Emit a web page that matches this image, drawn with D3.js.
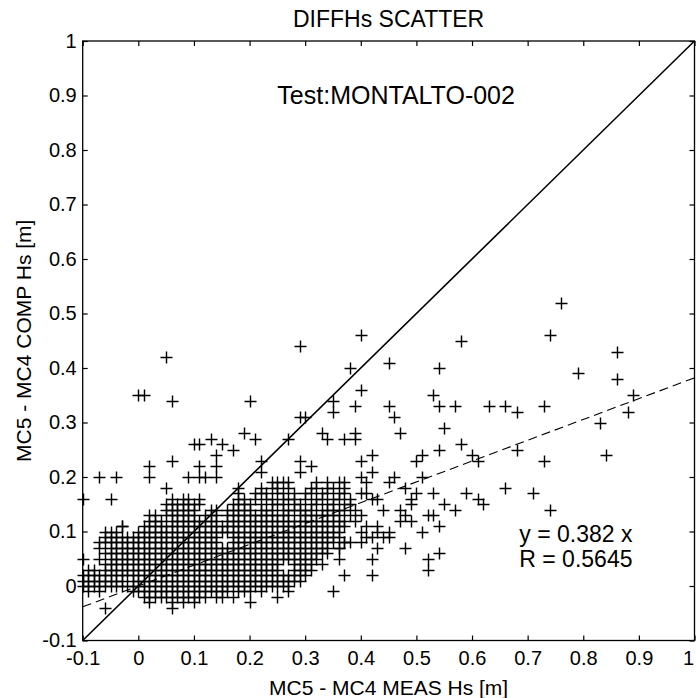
<!DOCTYPE html>
<html>
<head>
<meta charset="utf-8">
<script src="https://cdn.jsdelivr.net/npm/d3@7"></script>
<style>
  body { margin: 0; background: #fff; }
  svg text { font-family: "Liberation Sans", Arial, sans-serif; fill: #000; }
</style>
</head>
<body>
<div id="chart"></div>
<script>
// tick values
const xTicks = [-0.1, 0, 0.1, 0.2, 0.3, 0.4, 0.5, 0.6, 0.7, 0.8, 0.9, 1];
const yTicks = [-0.1, 0, 0.1, 0.2, 0.3, 0.4, 0.5, 0.6, 0.7, 0.8, 0.9, 1];

// dense part of the scatter, read row by row (values in cm, i.e. hundredths of m)
const rowY = [19, 18, 17, 16, 15, 14, 13, 12, 11, 10, 9, 8, 7, 6, 5, 4, 3, 2, 1, 0, -1, -2, -3, -4];
const rowX = [
  [24,25,26,27,32,34,36,37],
  [18,22,24,25,27,31,32,34,35,37],
  [18,21,22,23,25,26,28,30,31,33,34,36,37],
  [6,8,9,11,18,19,21,23,24,26,27,28,30,32,33,35,36,38],
  [5,6,7,8,9,10,11,17,18,19,20,22,24,25,26,28,29,31,32,34,35,37,38],
  [5,6,7,8,9,10,13,14,16,17,18,19,20,22,23,24,26,27,28,29,30,31,33,34,35,36,37],
  [2,3,5,6,7,8,9,10,12,13,14,16,17,18,19,20,21,22,23,24,25,26,27,29,30,31,32,33,34,35,36],
  [2,3,4,6,7,8,9,10,11,12,13,14,16,17,18,19,20,21,22,23,24,25,26,27,28,29,30,31,32,33,34,35,36,37],
  [-3,1,2,3,4,5,6,7,8,9,10,11,12,13,14,15,16,17,18,19,20,21,22,23,24,25,26,27,28,29,30,31,32,33,34,35,36,37],
  [-6,-5,-4,0,1,2,3,4,5,6,7,8,9,10,11,12,13,14,15,16,17,18,19,20,21,22,23,24,25,26,27,28,29,30,31,32,33,34,35,36],
  [-6,-5,-4,-3,-2,-1,0,1,2,3,4,5,6,7,8,9,10,11,12,13,14,17,18,19,20,21,22,23,24,25,26,27,28,29,30,31,32,33,34,35,36],
  [-7,-6,-5,-4,-3,-2,-1,0,1,2,3,4,5,6,7,8,9,10,11,12,13,14,17,18,19,20,21,22,23,24,25,26,27,28,29,30,31,32,33,34,35,37],
  [-7,-5,-4,-3,-2,-1,0,1,2,3,4,5,6,7,8,9,10,11,12,13,14,15,16,17,18,19,20,21,22,23,24,25,26,27,28,29,30,31,32,33,34,36],
  [-6,-5,-4,-3,-2,-1,0,1,2,3,4,5,6,7,8,9,10,11,12,13,14,15,16,17,18,19,20,21,22,23,24,25,26,27,28,29,30,31,32,33,34],
  [-10,-7,-5,-4,-3,-2,-1,0,1,2,3,4,5,6,7,8,9,10,11,12,13,14,15,16,17,18,19,20,21,22,23,24,25,26,27,28,29,30,31,32],
  [-6,-5,-4,-3,-2,-1,0,1,2,3,4,5,6,7,8,9,10,11,12,13,14,15,16,17,18,19,20,21,22,23,24,25,28,29,30,31,33],
  [-9,-8,-6,-5,-4,-3,-2,-1,0,1,2,3,4,5,6,7,8,9,10,11,12,13,14,15,16,17,18,19,20,21,22,23,24,25,28,29,30,31],
  [-10,-9,-8,-7,-6,-5,-4,-3,-2,-1,0,1,2,3,4,5,6,7,8,9,10,11,12,13,14,15,16,17,18,19,20,21,22,23,24,25,26,27,28,29,30],
  [-10,-9,-8,-7,-6,-5,-4,-3,-1,0,1,2,3,4,5,6,7,8,9,10,11,12,13,14,15,16,17,18,19,20,21,22,23,24,25,26,27,28,29],
  [-10,-9,-8,-7,-6,-5,-4,-3,-2,-1,0,1,2,3,4,5,6,7,8,9,10,11,12,13,14,15,16,17,18,19,20,21,22,23,24,25,26,27],
  [-9,-7,-1,0,1,2,3,4,5,6,7,8,9,10,11,12,13,14,15,16,18,19,20,22,27],
  [1,2,3,4,5,6,7,8,9,10,11,12,14,15,17,25],
  [2,6,8,10,20],
  [-6,6]
];

// scattered points outside the dense block (x, y in cm)
const sparseX = [76,5,29,40,58,74,38,45,54,86,79,86,40,53,35,35,39,45,46,47,54,57,63,66,68,73,55,58,54,68,83,88,89,
  37,39,39,33,34,27,21,19,20,0,1,6,29,30,10,11,13,15,17,14,14,14,11,11,9,12,6,2,2,-7,-4,-5,-10,-3,5,22,22,29,29,31,
  50,51,40,42,60,61,84,73,51,45,46,48,53,55,57,59,61,62,66,71,74,49,50,49,52,53,54,51,47,48,49,47,48,52,54,52,
  43,42,42,37,36,35,40,40,42,41,44,43,40,41,42,43,44,45,41,43,39,38,39,40,42,41,40,38,37,36,45];
const sparseY = [52,42,44,46,45,46,40,41,40,43,39,38,36,35,34,32,33,33,31,28,33,33,33,33,32,33,29,26,25,25,30,32,35,
  27,27,28,28,27,27,27,28,34,35,35,34,31,31,26,26,27,26,25,24,22,20,22,20,20,20,23,22,20,20,20,16,16,11,18,23,21,23,21,22,
  23,24,23,24,24,23,24,23,20,19,20,18,17,15,14,17,16,15,18,17,14,16,17,15,13,13,11,10,14,13,12,12,7,5,6,3,
  7,5,2,2,5,-1,8,20,21,19,14,16,10,9,9,10,9,9,11,11,12,13,14,13,16,17,17,8,8,7,10];

// fit and annotation
const fitSlope = 0.382;
const fitR = 0.5645;
const titleText = "DIFFHs SCATTER";
const testText = "Test:MONTALTO-002";
const xLabel = "MC5 - MC4 MEAS Hs [m]";
const yLabel = "MC5 - MC4 COMP Hs [m]";

const W = 696, H = 698;
const pLeft = 82.7, pRight = 694.5, pTop = 41, pBottom = 640.5;

const svg = d3.select("#chart")
    .append("svg")
    .attr("width", W)
    .attr("height", H);

const x = d3.scaleLinear().domain([-0.1, 1]).range([pLeft, pRight]);
const y = d3.scaleLinear().domain([-0.1, 1]).range([pBottom, pTop]);

// build point list from the arrays
const points = [];
rowY.forEach((r, i) => {
    rowX[i].forEach(c => points.push({ x: c / 100, y: r / 100 }));
});
sparseX.forEach((c, i) => points.push({ x: c / 100, y: sparseY[i] / 100 }));

// markers, snapped to pixel centres so the mesh stays open
svg.append("g")
    .selectAll("path")
    .data(points)
    .enter()
    .append("path")
    .attr("transform", d => `translate(${Math.round(x(d.x)) + 0.5},${Math.round(y(d.y)) + 0.5})`)
    .attr("d", "M-6,0H6M0,-6V6")
    .attr("stroke", "#000")
    .attr("stroke-width", 1.45)
    .attr("fill", "none");

// y = x line
svg.append("line")
    .attr("x1", x(-0.1)).attr("y1", y(-0.1))
    .attr("x2", x(1)).attr("y2", y(1))
    .attr("stroke", "#000")
    .attr("stroke-width", 1.6);

// regression line
svg.append("line")
    .attr("x1", x(-0.1)).attr("y1", y(-0.1 * fitSlope))
    .attr("x2", x(1)).attr("y2", y(fitSlope))
    .attr("stroke", "#000")
    .attr("stroke-width", 1.1)
    .attr("stroke-dasharray", "9,5");

// axes, ticks pointing inward like matlab
const fmt = d => String(d);
const axB = svg.append("g")
    .attr("transform", `translate(0,${pBottom})`)
    .call(d3.axisBottom(x).tickValues(xTicks).tickFormat(fmt).tickSize(-5).tickSizeOuter(0).tickPadding(10));
const axL = svg.append("g")
    .attr("transform", `translate(${pLeft},0)`)
    .call(d3.axisLeft(y).tickValues(yTicks).tickFormat(fmt).tickSize(-5).tickSizeOuter(0).tickPadding(6));
const axT = svg.append("g")
    .attr("transform", `translate(0,${pTop})`)
    .call(d3.axisTop(x).tickValues(xTicks).tickFormat("").tickSize(-5).tickSizeOuter(0));
const axR = svg.append("g")
    .attr("transform", `translate(${pRight},0)`)
    .call(d3.axisRight(y).tickValues(yTicks).tickFormat("").tickSize(-5).tickSizeOuter(0));

[axB, axL, axT, axR].forEach(g => {
    g.select(".domain").remove();
    g.selectAll("line").attr("stroke", "#000").attr("stroke-width", 1.2);
    g.selectAll("text").style("font-size", "20px").attr("fill", "#000");
});
// last x label sits against the page edge
axB.selectAll(".tick text").filter(d => d === 1).attr("text-anchor", "end").attr("dx", "-0.05em");

// box
svg.append("rect")
    .attr("x", pLeft).attr("y", pTop)
    .attr("width", pRight - pLeft).attr("height", pBottom - pTop)
    .attr("fill", "none")
    .attr("stroke", "#000")
    .attr("stroke-width", 1.3);

// titles
svg.append("text")
    .attr("x", (pLeft + pRight) / 2)
    .attr("y", 27)
    .attr("text-anchor", "middle")
    .style("font-size", "23px")
    .text(titleText);

svg.append("text")
    .attr("x", x(0.25))
    .attr("y", y(0.9) + 8)
    .style("font-size", "25px")
    .text(testText);

svg.append("text")
    .attr("x", (pLeft + pRight) / 2)
    .attr("y", 695)
    .attr("text-anchor", "middle")
    .style("font-size", "21px")
    .text(xLabel);

svg.append("text")
    .attr("transform", `translate(31,${(pTop + pBottom) / 2})rotate(-90)`)
    .attr("text-anchor", "middle")
    .style("font-size", "21px")
    .text(yLabel);

// fit annotation
svg.append("text")
    .attr("x", x(0.685))
    .attr("y", 541.5)
    .style("font-size", "23px")
    .text(`y = ${fitSlope} x`);

svg.append("text")
    .attr("x", x(0.685))
    .attr("y", 566.5)
    .style("font-size", "23px")
    .text(`R = ${fitR}`);
</script>
</body>
</html>
